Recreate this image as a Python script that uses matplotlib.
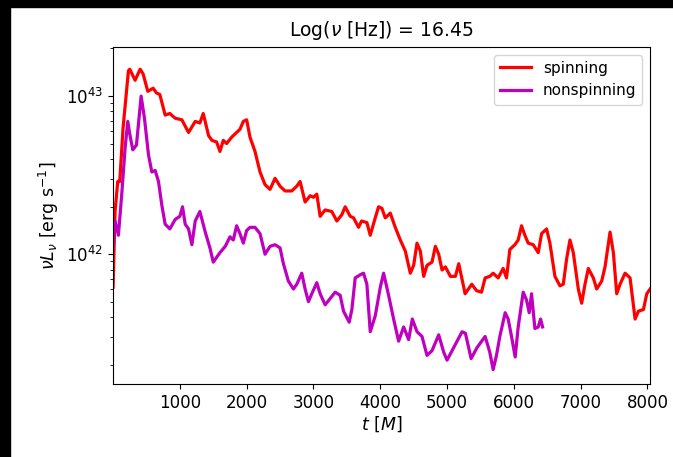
import numpy as np
import matplotlib
matplotlib.use("Agg")
import matplotlib.pyplot as plt
from matplotlib.patches import Rectangle

# time [M] and log10(nu L_nu)
spin_t = [0, 30, 70, 100, 150, 230, 250, 330, 405, 450, 520, 600, 650, 700, 780, 850,
          930, 1030, 1130, 1230, 1300, 1350, 1430, 1480, 1550, 1600, 1650, 1700, 1775,
          1850, 1900, 1950, 2000, 2050, 2125, 2200, 2275, 2350, 2425, 2500, 2575, 2675,
          2750, 2800, 2875, 2950, 3000, 3050, 3100, 3175, 3275, 3350, 3425, 3475, 3550,
          3600, 3675, 3720, 3800, 3850, 3925, 3975, 4025, 4075, 4150, 4225, 4300, 4375,
          4450, 4500, 4550, 4600, 4650, 4700, 4775, 4825, 4875, 4925, 4975, 5050, 5125,
          5175, 5270, 5370, 5440, 5515, 5570, 5640, 5690, 5765, 5840, 5890, 5940, 6015,
          6065, 6115, 6165, 6215, 6290, 6365, 6415, 6490, 6540, 6615, 6690, 6740, 6790,
          6840, 6890, 6965, 7015, 7065, 7115, 7190, 7240, 7315, 7365, 7440, 7490, 7540,
          7590, 7665, 7740, 7815, 7865, 7940, 7990, 8040]
spin_logL = [41.79, 42.27, 42.46, 42.46, 42.80, 43.16, 43.17, 43.10, 43.17, 43.14, 43.03,
             43.05, 43.02, 43.01, 42.88, 42.89, 42.86, 42.85, 42.77, 42.84, 42.83, 42.89,
             42.75, 42.72, 42.71, 42.65, 42.72, 42.70, 42.74, 42.77, 42.79, 42.84, 42.85,
             42.74, 42.65, 42.52, 42.44, 42.41, 42.48, 42.43, 42.40, 42.40, 42.43, 42.46,
             42.33, 42.37, 42.36, 42.38, 42.24, 42.28, 42.27, 42.21, 42.25, 42.30, 42.24,
             42.23, 42.17, 42.21, 42.20, 42.12, 42.23, 42.30, 42.29, 42.23, 42.26, 42.17,
             42.09, 42.02, 41.88, 41.93, 42.07, 42.02, 41.86, 41.93, 41.95, 42.05, 42.00,
             41.90, 41.92, 41.86, 41.86, 41.94, 41.75, 41.81, 41.77, 41.76, 41.85, 41.86,
             41.88, 41.85, 41.91, 41.85, 42.03, 42.06, 42.09, 42.18, 42.12, 42.07, 42.06,
             42.01, 42.13, 42.16, 42.07, 41.86, 41.80, 41.81, 41.97, 42.09, 42.01, 41.78,
             41.69, 41.81, 41.91, 41.85, 41.78, 41.83, 41.92, 42.14, 42.01, 41.75, 41.81,
             41.88, 41.85, 41.59, 41.64, 41.65, 41.75, 41.78]

nospin_t = [0, 30, 80, 130, 180, 220, 250, 295, 350, 420, 470, 530, 580, 630, 680, 730,
            780, 850, 930, 1000, 1040, 1080, 1130, 1180, 1230, 1300, 1380, 1450, 1500,
            1600, 1680, 1750, 1800, 1850, 1900, 1950, 2000, 2050, 2125, 2200, 2275, 2350,
            2425, 2500, 2550, 2625, 2700, 2750, 2825, 2875, 2925, 2975, 3050, 3100, 3175,
            3250, 3325, 3400, 3450, 3535, 3575, 3625, 3700, 3750, 3800, 3850, 3925, 4000,
            4050, 4120, 4200, 4275, 4350, 4425, 4480, 4550, 4625, 4700, 4775, 4875, 4950,
            5000, 5075, 5150, 5225, 5275, 5360, 5450, 5570, 5640, 5690, 5740, 5790, 5870,
            5915, 5965, 6020, 6065, 6140, 6190, 6230, 6265, 6315, 6365, 6400, 6430]
nospin_logL = [42.05, 42.21, 42.12, 42.38, 42.67, 42.84, 42.76, 42.66, 42.69, 43.00, 42.86,
               42.63, 42.52, 42.53, 42.46, 42.31, 42.19, 42.16, 42.22, 42.24, 42.30, 42.19,
               42.16, 42.06, 42.21, 42.27, 42.14, 42.04, 41.95, 42.01, 42.05, 42.11, 42.09,
               42.18, 42.13, 42.07, 42.15, 42.17, 42.17, 42.13, 42.00, 42.05, 42.06, 42.04,
               41.94, 41.83, 41.78, 41.81, 41.88, 41.78, 41.70, 41.75, 41.82, 41.75, 41.68,
               41.72, 41.76, 41.74, 41.64, 41.57, 41.65, 41.85, 41.87, 41.88, 41.81, 41.51,
               41.61, 41.79, 41.88, 41.75, 41.59, 41.45, 41.54, 41.46, 41.59, 41.51, 41.48,
               41.36, 41.39, 41.49, 41.38, 41.33, 41.39, 41.45, 41.51, 41.50, 41.34, 41.41,
               41.48, 41.38, 41.27, 41.36, 41.48, 41.63, 41.59, 41.48, 41.35, 41.54, 41.76,
               41.71, 41.63, 41.75, 41.53, 41.54, 41.59, 41.54]

xticks = [1000, 2000, 3000, 4000, 5000, 6000, 7000, 8000]

fig = plt.figure(figsize=(6.73, 4.57), dpi=100)
ax = fig.add_axes([0.168, 0.160, 0.798, 0.737])

ax.plot(spin_t, 10 ** np.array(spin_logL), color='red', lw=2.3, label='spinning')
ax.plot(nospin_t, 10 ** np.array(nospin_logL), color='m', lw=2.3, label='nonspinning')

ax.set_yscale('log')
ax.set_xlim(0, 8040)
ax.set_ylim(10 ** 41.18, 10 ** 43.31)
ax.set_xticks(xticks)
ax.tick_params(labelsize=12)
ax.set_xlabel(r'$t\ [M]$', fontsize=12.5, labelpad=2)
ax.set_ylabel(r'$\nu L_\nu$ [erg s$^{-1}$]', fontsize=12.5)
ax.set_title(r'Log($\nu$ [Hz]) = 16.45', fontsize=13.5, pad=8)
ax.legend(loc='upper right', fontsize=11)

# black frame strips from the screenshot
fig.patches.append(Rectangle((0, 0), 10 / 673, 1, transform=fig.transFigure,
                             color='black', zorder=10))
fig.patches.append(Rectangle((0, 1 - 7 / 457), 1, 7 / 457, transform=fig.transFigure,
                             color='black', zorder=10))

fig.savefig('out.png', dpi=100)
